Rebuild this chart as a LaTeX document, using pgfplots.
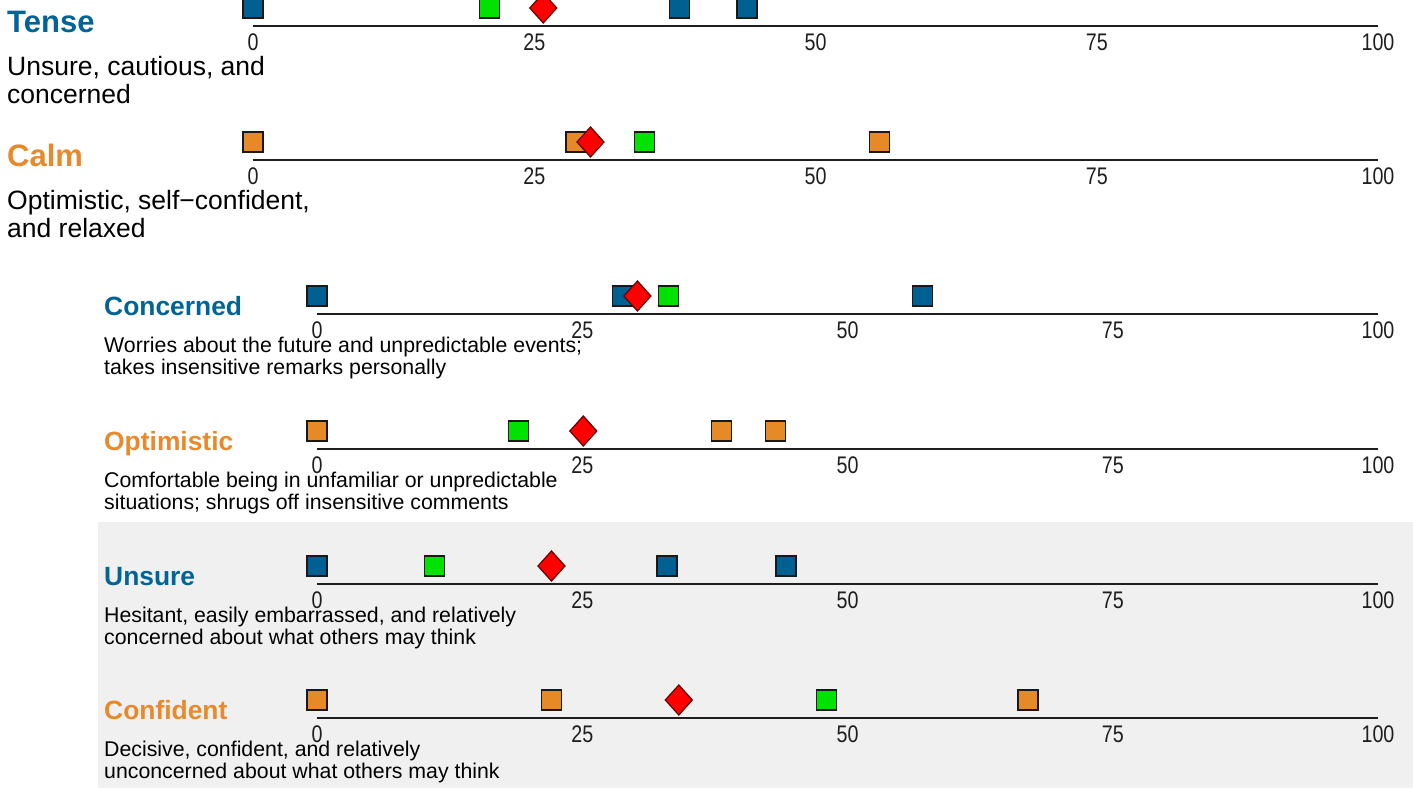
\documentclass[border=0pt]{standalone}
\usepackage{fontspec}
\setmainfont{Liberation Sans}
\newfontfamily\tickfont[FakeStretch=0.82]{Liberation Sans}
\usepackage{pgfplots}
\pgfplotsset{compat=1.18}

\definecolor{bluecol}{RGB}{0,96,145}
\definecolor{greencol}{RGB}{0,226,0}
\definecolor{orangecol}{RGB}{230,138,40}
\definecolor{redcol}{RGB}{255,0,0}
\definecolor{headblue}{RGB}{0,100,150}
\definecolor{headorange}{RGB}{232,137,44}
\definecolor{edgecol}{RGB}{25,25,25}
\definecolor{rededge}{RGB}{100,0,0}
\definecolor{linecol}{RGB}{30,30,30}
\definecolor{panelgray}{RGB}{240,240,240}

\pgfplotsset{
  rowaxis/.style={
    scale only axis,
    height=36pt,
    anchor=south west,
    xmin=0, xmax=100, ymin=0, ymax=1,
    axis x line=bottom, axis y line=none,
    axis line style={-, line width=2pt, color=linecol},
    xtick={0,25,50,75,100},
    major tick length=0pt,
    /pgf/number format/assume math mode=true,
    xticklabel style={font=\tickfont\fontsize{24}{24}\selectfont, text=linecol, anchor=base, yshift=-24pt},
    clip=false,
  },
  sq/.style={only marks, mark=square*, mark size=10pt,
    mark options={fill=#1, draw=edgecol, line width=1.3pt}},
  dia/.style={only marks, mark=diamond*, mark size=15pt,
    mark options={fill=redcol, draw=rededge, line width=1.2pt, xscale=1.2}},
}

\newcommand{\head}[4]{% x, baseline y, colour, text
  \node[anchor=base west, inner sep=0pt, text=#3, font=\bfseries\fontsize{31}{37}\selectfont] at (#1pt,-#2pt) {#4};}
\newcommand{\subhead}[4]{%
  \node[anchor=base west, inner sep=0pt, text=#3, font=\bfseries\fontsize{26.4}{30}\selectfont] at (#1pt,-#2pt) {#4};}
\newcommand{\desc}[3]{%
  \node[anchor=base west, inner sep=0pt, font=\fontsize{26.5}{28}\selectfont] at (#1pt,-#2pt) {#3};}
\newcommand{\subdesc}[3]{%
  \node[anchor=base west, inner sep=0pt, font=\fontsize{21.3}{22}\selectfont] at (#1pt,-#2pt) {#3};}

\begin{document}
\begin{tikzpicture}
\path[use as bounding box] (0pt,0pt) rectangle (1413pt,-788pt);
\fill[panelgray] (98pt,-522pt) rectangle (1413pt,-788pt);

% ---- titles and descriptions
\head{7}{32}{headblue}{Tense}
\desc{7}{75}{Unsure, cautious, and}
\desc{7}{103}{concerned}
\head{7}{166}{headorange}{Calm}
\desc{7}{209}{Optimistic, self−confident,}
\desc{7}{237}{and relaxed}

\subhead{104}{315}{headblue}{Concerned}
\subdesc{104}{352}{Worries about the future and unpredictable events;}
\subdesc{104}{374}{takes insensitive remarks personally}
\subhead{104}{450}{headorange}{Optimistic}
\subdesc{104}{487}{Comfortable being in unfamiliar or unpredictable}
\subdesc{104}{509}{situations; shrugs off insensitive comments}
\subhead{104}{585}{headblue}{Unsure}
\subdesc{104}{622}{Hesitant, easily embarrassed, and relatively}
\subdesc{104}{644}{concerned about what others may think}
\subhead{104}{719}{headorange}{Confident}
\subdesc{104}{756}{Decisive, confident, and relatively}
\subdesc{104}{778}{unconcerned about what others may think}

% ---- Tense
\begin{axis}[rowaxis, width=1125pt, at={(253pt,-26pt)}]
\addplot[sq=bluecol] coordinates {(0,0.5) (37.9,0.5) (43.9,0.5)};
\addplot[sq=greencol] coordinates {(21.0,0.5)};
\addplot[dia] coordinates {(25.8,0.5)};
\end{axis}

% ---- Calm
\begin{axis}[rowaxis, width=1125pt, at={(253pt,-160pt)}]
\addplot[sq=orangecol] coordinates {(0,0.5) (28.7,0.5) (55.7,0.5)};
\addplot[sq=greencol] coordinates {(34.8,0.5)};
\addplot[dia] coordinates {(30.0,0.5)};
\end{axis}

% ---- Concerned
\begin{axis}[rowaxis, width=1061pt, at={(317pt,-314pt)}]
\addplot[sq=bluecol] coordinates {(0,0.5) (28.8,0.5) (57.1,0.5)};
\addplot[sq=greencol] coordinates {(33.1,0.5)};
\addplot[dia] coordinates {(30.2,0.5)};
\end{axis}

% ---- Optimistic
\begin{axis}[rowaxis, width=1061pt, at={(317pt,-449pt)}]
\addplot[sq=orangecol] coordinates {(0,0.5) (38.1,0.5) (43.2,0.5)};
\addplot[sq=greencol] coordinates {(19.0,0.5)};
\addplot[dia] coordinates {(25.1,0.5)};
\end{axis}

% ---- Unsure
\begin{axis}[rowaxis, width=1061pt, at={(317pt,-584pt)}]
\addplot[sq=bluecol] coordinates {(0,0.5) (33.0,0.5) (44.2,0.5)};
\addplot[sq=greencol] coordinates {(11.1,0.5)};
\addplot[dia] coordinates {(22.1,0.5)};
\end{axis}

% ---- Confident
\begin{axis}[rowaxis, width=1061pt, at={(317pt,-718pt)}]
\addplot[sq=orangecol] coordinates {(0,0.5) (22.1,0.5) (67.0,0.5)};
\addplot[sq=greencol] coordinates {(48.0,0.5)};
\addplot[dia] coordinates {(34.1,0.5)};
\end{axis}
\end{tikzpicture}
\end{document}
